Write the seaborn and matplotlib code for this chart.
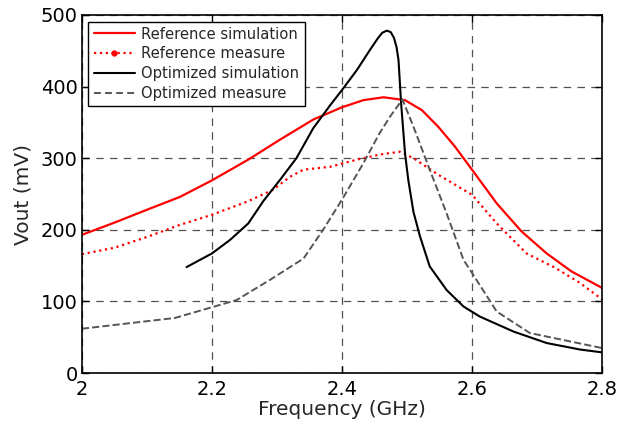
import numpy as np
import pandas as pd
import matplotlib
matplotlib.use("Agg")
import matplotlib.pyplot as plt
import seaborn as sns
from matplotlib.lines import Line2D

# Reference simulation
ref_sim_f = [2.000, 2.050, 2.100, 2.151, 2.200, 2.256, 2.305, 2.356, 2.400, 2.433, 2.464,
             2.497, 2.523, 2.548, 2.574, 2.600, 2.638, 2.676, 2.715, 2.753, 2.800]
ref_sim_v = [193, 210, 228, 246, 269, 298, 326, 354, 371, 381, 385,
             381, 367, 344, 316, 284, 237, 198, 167, 142, 119]

# Reference measure
ref_meas_f = [2.000, 2.050, 2.100, 2.151, 2.200, 2.256, 2.294, 2.320, 2.341, 2.382, 2.423,
              2.458, 2.489, 2.510, 2.548, 2.600, 2.638, 2.684, 2.728, 2.766, 2.800]
ref_meas_v = [166, 175, 190, 207, 221, 240, 256, 274, 284, 288, 298,
              305, 309, 300, 277, 249, 209, 167, 147, 126, 103]

# Optimized simulation
opt_sim_f = [2.161, 2.200, 2.228, 2.256, 2.279, 2.305, 2.330, 2.356, 2.382, 2.400, 2.423,
             2.443, 2.455, 2.462, 2.469, 2.475, 2.480, 2.484, 2.487, 2.491, 2.497, 2.502,
             2.510, 2.520, 2.535, 2.561, 2.587, 2.612, 2.664, 2.715, 2.766, 2.800]
opt_sim_v = [148, 167, 186, 209, 240, 270, 300, 342, 374, 395, 423,
             451, 467, 475, 478, 476, 468, 455, 437, 377, 307, 270,
             225, 191, 149, 116, 93, 79, 58, 42, 33, 29]

# Optimized measure
opt_meas_f = [2.000, 2.143, 2.238, 2.289, 2.341, 2.371, 2.400, 2.433, 2.458, 2.474, 2.493,
              2.510, 2.535, 2.561, 2.587, 2.600, 2.638, 2.689, 2.800]
opt_meas_v = [62, 77, 102, 130, 160, 200, 242, 293, 335, 358, 382,
              344, 284, 223, 158, 140, 86, 56, 35]

labels = ["Reference simulation", "Reference measure", "Optimized simulation", "Optimized measure"]

frames = []
for lab, f, v in zip(labels, [ref_sim_f, ref_meas_f, opt_sim_f, opt_meas_f],
                     [ref_sim_v, ref_meas_v, opt_sim_v, opt_meas_v]):
    frames.append(pd.DataFrame({"Frequency": f, "Vout": v, "series": lab}))
df = pd.concat(frames, ignore_index=True)

sns.set_style("white")
plt.rcParams["font.family"] = ["DejaVu Sans"]

fig = plt.figure(figsize=(6.2, 4.25), dpi=100)
ax = fig.add_axes([0.132, 0.122, 0.839, 0.843])

styles = {
    "Reference simulation": dict(color="#ff0000", linestyle="-", linewidth=1.6),
    "Reference measure": dict(color="#ff0000", linestyle=":", linewidth=1.6),
    "Optimized simulation": dict(color="#000000", linestyle="-", linewidth=1.5),
    "Optimized measure": dict(color="#555555", linestyle="--", linewidth=1.4, dashes=(3.5, 2.2)),
}
for lab in labels:
    sub = df[df["series"] == lab]
    sns.lineplot(data=sub, x="Frequency", y="Vout", ax=ax, label=lab,
                 sort=False, estimator=None, **styles[lab])

ax.set_xlim(2.0, 2.8)
ax.set_ylim(0, 500)
ax.set_xticks([2.0, 2.2, 2.4, 2.6, 2.8])
ax.set_xticklabels(["2", "2.2", "2.4", "2.6", "2.8"])
ax.set_yticks([0, 100, 200, 300, 400, 500])
ax.grid(True, color="#333333", linestyle=(0, (6, 5)), linewidth=0.9, alpha=0.85)
ax.tick_params(direction="in", length=5, labelsize=14, colors="black", width=1,
               top=True, right=True, bottom=True, left=True)
ax.tick_params(axis="x", pad=5)
ax.tick_params(axis="y", pad=3)
for sp in ax.spines.values():
    sp.set_color("black")
    sp.set_linewidth(1.2)
ax.set_xlabel("Frequency (GHz)", fontsize=14.5, labelpad=1)
ax.set_ylabel("Vout (mV)", fontsize=14.5, labelpad=6)

handles = [
    Line2D([], [], color="#ff0000", linestyle="-", linewidth=1.6),
    Line2D([], [], color="#ff0000", linestyle=":", linewidth=1.6, marker="o", markersize=3.5),
    Line2D([], [], color="#000000", linestyle="-", linewidth=1.5),
    Line2D([], [], color="#555555", linestyle="--", linewidth=1.4, dashes=(3.5, 2.2)),
]
leg = ax.legend(handles, labels, loc="upper left", fontsize=10.6, frameon=True, fancybox=False,
                edgecolor="black", framealpha=1, borderpad=0.35, labelspacing=0.32,
                handlelength=2.8, handletextpad=0.45, borderaxespad=0.45, numpoints=1)
leg.get_frame().set_linewidth(1.0)

fig.savefig("out.png", dpi=100)
